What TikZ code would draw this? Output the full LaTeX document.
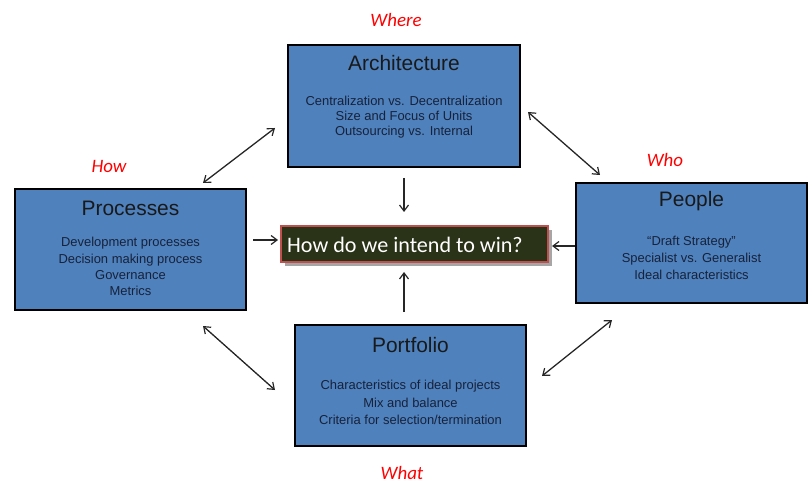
\documentclass[tikz,border=0pt]{standalone}
\usepackage{fontspec}
\setmainfont{Liberation Sans}
\newfontfamily\calibri{Carlito}
\usetikzlibrary{arrows.meta,calc}
\definecolor{boxblue}{HTML}{4F81BD}
\definecolor{bodyink}{HTML}{17223A}
\definecolor{goalfill}{HTML}{2A3318}
\definecolor{goaledge}{HTML}{C0504D}
\definecolor{tagred}{HTML}{FF0000}
\begin{document}
\begin{tikzpicture}[x=1bp,y=-1bp,
  topic/.style={draw=black,line width=1.5bp,fill=boxblue,minimum width=231bp,minimum height=121bp,inner sep=0pt},
  topictitle/.style={font=\fontsize{21}{24}\selectfont,text=black!90,inner sep=0pt},
  topicbody/.style={text=bodyink,align=center,inner sep=0pt,anchor=north},
  tag/.style={font=\calibri\itshape\fontsize{19}{22}\selectfont,text=tagred,inner sep=0pt},
  barb/.tip={Straight Barb[length=6bp,width=9bp,line width=1.2bp]},
  link/.style={draw=black!85,line width=1.3bp,{barb}-{barb}},
  feed/.style={draw=black!85,line width=1.3bp,-{barb}}]
\useasboundingbox (0,0) rectangle (812,483);

% the four topic boxes
\node[topic,minimum width=232bp,minimum height=122bp] (arch) at (404,106) {};
\node[topic,minimum height=120bp] (people) at (691.5,243) {};
\node[topic] (proc) at (130.5,249.5) {};
\node[topic] (port) at (410.5,385.5) {};

% central question, with a soft shadow
\fill[black!35] (285,230) rectangle (552,266);
\node[draw=goaledge,line width=1.5bp,fill=goalfill,minimum width=267bp,minimum height=36bp,inner sep=0pt] (goal) at (414.5,244) {};
\node[anchor=west,inner sep=0pt,text=white,font=\calibri\fontsize{22.2}{24}\selectfont] (goaltext) at (287,245) {How do we intend to win?};

% titles and contents
\node[topictitle] at ($(arch.north)+(0,19)$) {Architecture};
\node[topicbody,font=\fontsize{13}{15}\selectfont] at ($(arch.north)+(0,51.5)$) {Centralization vs. Decentralization\\Size and Focus of Units\\Outsourcing vs. Internal};
\node[topictitle] at ($(people.north)+(0,19)$) {People};
\node[topicbody,font=\fontsize{13}{17}\selectfont] at ($(people.north)+(0,54)$) {``Draft Strategy''\\Specialist vs. Generalist\\Ideal characteristics};
\node[topictitle] at ($(proc.north)+(0,20)$) {Processes};
\node[topicbody,font=\fontsize{13}{16.3}\selectfont] at ($(proc.north)+(0,49)$) {Development processes\\Decision making process\\Governance\\Metrics};
\node[topictitle] at ($(port.north)+(0,21)$) {Portfolio};
\node[topicbody,font=\fontsize{13}{17.5}\selectfont] at ($(port.north)+(0,56)$) {Characteristics of ideal projects\\Mix and balance\\Criteria for selection/termination};

% question tags
\node[tag] (where) at (396,20) {Where};
\node[tag] (how) at (109,166) {How};
\node[tag] (who) at (665,160) {Who};
\node[tag] (what) at (402,473) {What};

% connector end points
\coordinate (archW) at (275,128);
\coordinate (procN) at (203,183);
\coordinate (archE) at (528,112);
\coordinate (peopleN) at (600,175);
\coordinate (procS) at (203,326);
\coordinate (portW) at (275,390);
\coordinate (portE) at (542,376);
\coordinate (peopleS) at (612,320);
\coordinate (archS) at (404,178);
\coordinate (goalN) at (404,212);
\coordinate (portN) at (404,312);
\coordinate (goalS) at (404,272);
\coordinate (procE) at (253,240);
\coordinate (goalW) at (278,240);
\coordinate (peopleW) at (575,246);
\coordinate (goalE) at (552,246);

% links between the topics
\draw[link] (archW) -- (procN);
\draw[link] (archE) -- (peopleN);
\draw[link] (procS) -- (portW);
\draw[link] (portE) -- (peopleS);

% links into the central question
\draw[feed] (archS) -- (goalN);
\draw[feed] (portN) -- (goalS);
\draw[feed] (procE) -- (goalW);
\draw[feed] (peopleW) -- (goalE);
\end{tikzpicture}
\end{document}
